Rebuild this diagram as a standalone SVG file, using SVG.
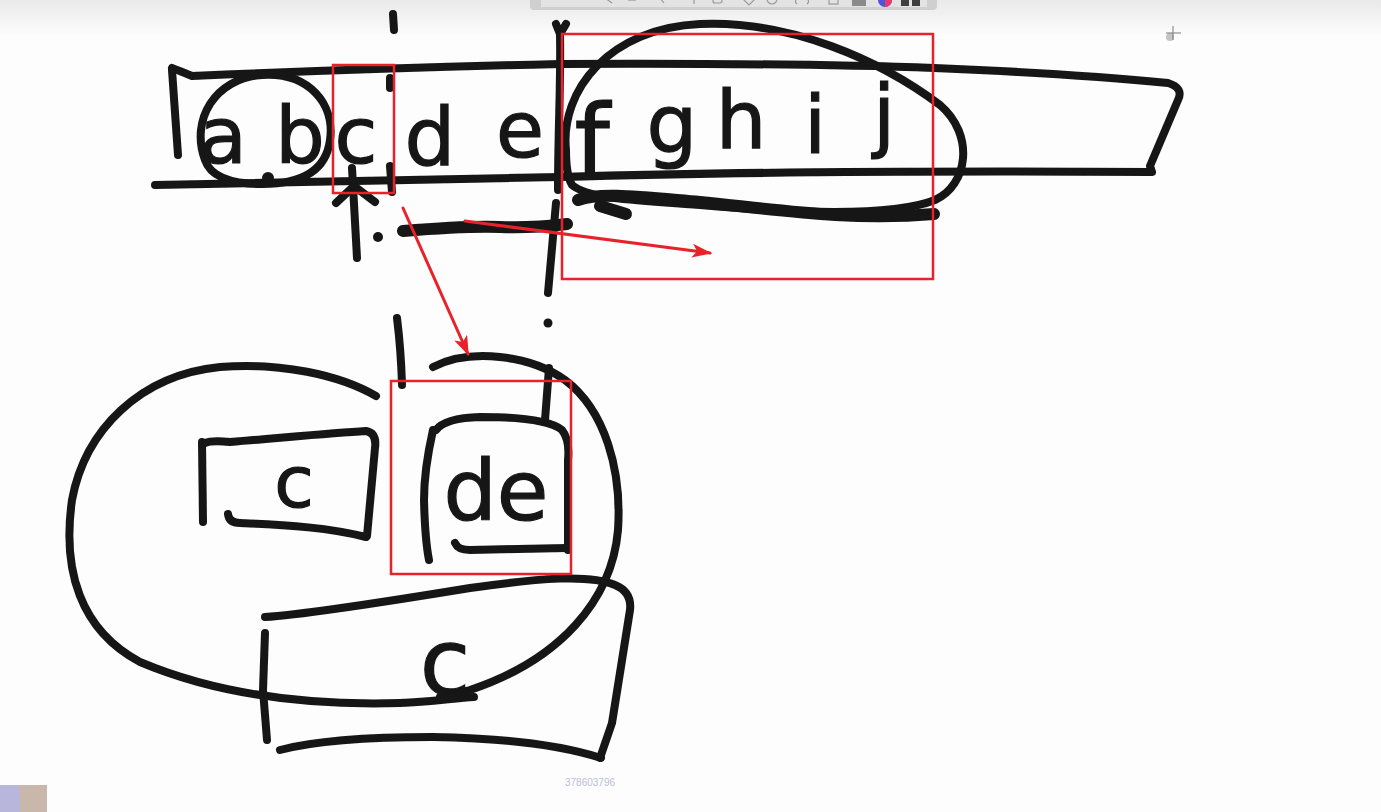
<svg xmlns="http://www.w3.org/2000/svg" width="1381" height="812" viewBox="0 0 1381 812">
  <defs>
    <linearGradient id="topfade" x1="0" y1="0" x2="0" y2="1">
      <stop offset="0" stop-color="#e9e9e9"/>
      <stop offset="1" stop-color="#fdfdfd"/>
    </linearGradient>
    <filter id="soft" x="-5%" y="-5%" width="110%" height="110%">
      <feGaussianBlur stdDeviation="0.7"/>
    </filter>
    <marker id="redhead" viewBox="0 0 20 14" refX="18" refY="7" markerWidth="20" markerHeight="14" markerUnits="userSpaceOnUse" orient="auto">
      <path d="M0,0 L20,7 L0,14 L5,7 Z" fill="#e8222b"/>
    </marker>
    <style>
      .ink { fill:none; stroke:#161616; stroke-width:8; stroke-linecap:round; stroke-linejoin:round; }
      .heavy { stroke-width:12; }
      .dot { fill:#161616; }
      .hand { font-family:"DejaVu Sans", "Liberation Sans", sans-serif; fill:#161616; stroke:#161616; stroke-width:1.2; text-anchor:middle; }
      .red { fill:none; stroke:#e8222b; stroke-width:2.5; }
      .redline { fill:none; stroke:#e8222b; stroke-width:3; stroke-linecap:round; }
    </style>
  </defs>

  <rect x="0" y="0" width="1381" height="812" fill="#fdfdfd"/>
  <rect x="0" y="0" width="1381" height="36" fill="url(#topfade)"/>

  <!-- screen toolbar -->
  <g id="toolbar">
    <rect x="530" y="-8" width="407" height="18" rx="4" fill="#cfcfcf"/>
    <rect x="541" y="-8" width="386" height="15" fill="#e3e3e3"/>
    <g fill="none" stroke="#9a9a9a" stroke-width="1.2">
      <path d="M605,-2 L612,3"/>
      <path d="M628,0 h8"/>
      <path d="M660,-2 l4,5"/>
      <path d="M694,-2 v6"/>
      <rect x="713" y="-4" width="9" height="7" rx="2"/>
      <path d="M743,-1 l6,6 l6,-6"/>
      <circle cx="772" cy="-1" r="5"/>
      <path d="M797,-2 q-3,4 0,6 M807,-2 q3,4 0,6"/>
      <rect x="829" y="-3" width="9" height="7"/>
    </g>
    <rect x="852" y="-3" width="14" height="9" fill="#8a8a8a"/>
    <circle cx="885" cy="0" r="7" fill="#4a55d8"/>
    <path d="M885,0 L892,0 A7,7 0 0 1 885,7 Z" fill="#e83a6a"/>
    <rect x="901" y="-3" width="8" height="9" fill="#3e3e3e"/>
    <rect x="912" y="-3" width="8" height="9" fill="#3e3e3e"/>
  </g>

  <g id="drawing" filter="url(#soft)">
    <!-- string strip -->
    <g id="strip">
      <path class="ink" d="M172,68 Q180,71 192,76 Q380,68 560,64 Q800,63 934,68 Q1080,74 1168,83 Q1184,88 1178,100 L1150,166 L1152,172 Q800,170 560,177 Q350,181 155,185"/>
      <path class="ink" d="M172,70 Q175,110 178,155"/>
      <path class="ink" d="M556,24 L560,34 L566,24"/>
      <path class="ink" d="M560,36 C561,80 558,130 558,190"/>
      <text class="hand" x="223" y="163" font-size="78">a</text>
      <text class="hand" x="300" y="163" font-size="78">b</text>
      <text class="hand" x="356" y="163" font-size="78">c</text>
      <text class="hand" x="430" y="165" font-size="80">d</text>
      <text class="hand" x="520" y="157" font-size="78">e</text>
      <text class="hand" x="592" y="176" font-size="100">f</text>
      <text class="hand" x="672" y="152" font-size="80">g</text>
      <text class="hand" x="741" y="148" font-size="80">h</text>
      <text class="hand" x="815" y="153" font-size="80">i</text>
      <text class="hand" x="884" y="142" font-size="80">j</text>
    </g>

    <!-- circle around a b -->
    <g id="ab-loop">
      <path class="ink" d="M205,160 C190,120 215,78 262,75 C310,72 335,105 330,140 C326,172 300,184 262,184 C228,184 210,175 205,160 Z"/>
      <circle class="dot" cx="268" cy="178" r="6"/>
    </g>

    <!-- loop around f g h i j -->
    <g id="fghij-loop">
      <path class="ink" d="M566,150 C560,90 610,28 700,24 C790,20 880,60 940,105 C975,135 968,185 935,200 C890,218 780,212 700,205 C640,200 590,200 572,185 C566,175 566,160 566,150 Z"/>
      <path class="ink heavy" d="M578,200 C600,192 640,197 700,202 C780,210 850,221 934,214"/>
      <path class="ink heavy" d="M600,206 L626,214"/>
    </g>

    <!-- marks below the strip -->
    <g id="cut-marks">
      <path class="ink" d="M393,14 L394,30"/>
      <path class="ink" d="M390,78 L390,88"/>
      <path class="ink" d="M390,166 L392,192"/>
      <path class="ink" d="M352,168 L357,258"/>
      <path class="ink" d="M336,203 L354,186 L375,202"/>
      <circle class="dot" cx="378" cy="237" r="5"/>
      <path class="ink heavy" d="M403,231 C440,228 470,226 500,227 C530,228 550,226 567,224"/>
      <path class="ink" d="M556,203 L548,293"/>
      <circle class="dot" cx="548" cy="323" r="4.5"/>
      <path class="ink" d="M397,318 Q401,350 402,385"/>
    </g>

    <!-- big loop -->
    <g id="big-loop">
      <path class="ink" d="M376,396 C340,375 280,362 220,367 C140,375 85,430 72,500 C62,570 80,630 140,662 C230,700 330,705 400,703 C430,702 455,698 474,697"/>
      <path class="ink" d="M433,367 C470,348 530,355 565,380 C605,410 622,470 618,530 C612,600 560,660 470,690 C455,694 448,696 440,697"/>
      <path class="ink" d="M549,368 L545,420"/>
    </g>

    <!-- box c -->
    <g id="box-c">
      <path class="ink" d="M202,442 L203,522"/>
      <path class="ink" d="M205,443 Q212,440 230,442 C280,438 330,433 366,431 Q377,433 375,448 L367,536"/>
      <path class="ink" d="M228,514 Q229,523 240,523 C290,525 330,528 366,537"/>
      <text class="hand" x="294" y="507" font-size="72">c</text>
    </g>

    <!-- box de -->
    <g id="box-de">
      <path class="ink" d="M433,430 Q424,470 424,500 Q425,540 429,560"/>
      <path class="ink" d="M436,430 Q445,418 480,417 C520,417 550,420 562,430 Q570,440 568,460 L568,550"/>
      <path class="ink" d="M455,543 Q458,550 470,550 L567,548"/>
      <text class="hand" x="496" y="520" font-size="84">de</text>
    </g>

    <!-- box c (bottom) -->
    <g id="box-c2">
      <path class="ink" d="M265,617 C300,615 360,606 470,588 C540,578 590,574 615,585 Q632,592 630,610 L612,723 L600,758"/>
      <path class="ink" d="M265,633 L263,690 L267,740"/>
      <path class="ink" d="M280,750 C310,742 360,737 433,737 C500,738 560,745 601,758"/>
      <text class="hand" x="445" y="695" font-size="92">c</text>
    </g>
  </g>

  <!-- red highlight boxes -->
  <g id="highlights">
    <rect class="red" x="333" y="65" width="61" height="128"/>
    <rect class="red" x="562" y="34" width="371" height="245"/>
    <rect class="red" x="391" y="381" width="180" height="193"/>
  </g>

  <!-- red connectors -->
  <g id="connectors">
    <path class="redline" d="M465,221 L710,253" marker-end="url(#redhead)"/>
    <path class="redline" d="M403,208 L468,354" marker-end="url(#redhead)"/>
  </g>

  <!-- cursor -->
  <g id="cursor">
    <circle cx="1170" cy="37" r="4" fill="#c4c4c4"/>
    <path d="M1166,33 H1181 M1173,26 V40" stroke="#7a7a7a" stroke-width="1"/>
  </g>

  <text x="590" y="786" font-family="Liberation Sans, sans-serif" font-size="10" fill="#b9bdd8" text-anchor="middle">378603796</text>

  <g id="thumbnail">
    <rect x="0" y="785" width="20" height="27" fill="#b9b6dc"/>
    <rect x="20" y="785" width="27" height="27" fill="#cab7ab"/>
  </g>
</svg>
